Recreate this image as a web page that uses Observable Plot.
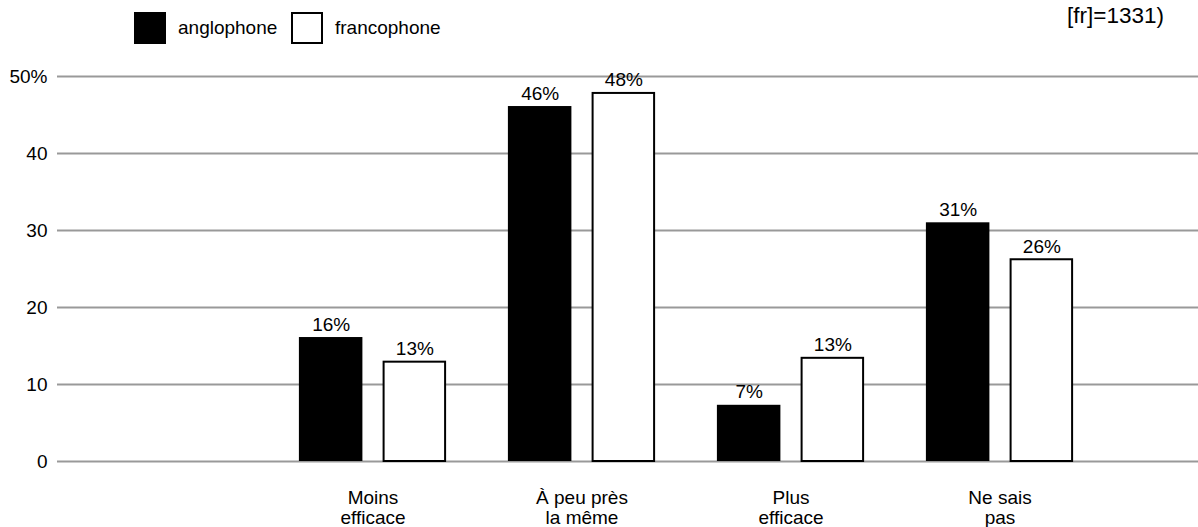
<!DOCTYPE html>
<html>
<head>
<meta charset="utf-8">
<script src="https://cdn.jsdelivr.net/npm/d3@7"></script>
<script src="https://cdn.jsdelivr.net/npm/@observablehq/plot@0.6"></script>
<style>
  html, body { margin: 0; padding: 0; background: #fff; }
  body { font-family: "Liberation Sans", Arial, Helvetica, sans-serif; color: #000; }
  #wrap { position: relative; width: 1198px; height: 527px; overflow: hidden; }
  #header { position: relative; width: 1198px; height: 56px; }
  .sw { position: absolute; top: 12px; width: 32px; height: 32px; box-sizing: border-box; }
  .lbl { position: absolute; top: 12px; height: 32px; line-height: 32px; font-size: 19px; }
  #note { position: absolute; right: 34px; top: 5px; font-size: 22.5px; line-height: 1; text-align: right; white-space: nowrap; }
</style>
</head>
<body>
<div id="wrap">
  <div id="header"></div>
  <div id="chart"></div>
</div>
<script>
// ---- data ----
const categories = [" ", "Moins\nefficace", "À peu près\nla même", "Plus\nefficace", "Ne sais\npas"];
const barCategories = ["Moins\nefficace", "À peu près\nla même", "Plus\nefficace", "Ne sais\npas"];
const anglophone = [16.1, 46.1, 7.3, 31.0];
const francophone = [12.9, 47.8, 13.4, 26.2];
const seriesNames = ["anglophone", "francophone"];
const yTicks = [0, 10, 20, 30, 40, 50];
const noteText = "[fr]=1331)";

// ---- header (legend + note) ----
const header = document.getElementById("header");
const legendItems = [
  {name: seriesNames[0], sw: 134, lbl: 178, style: "background:#000;"},
  {name: seriesNames[1], sw: 291, lbl: 335, style: "background:#fff;border:2px solid #000;"}
];
for (const it of legendItems) {
  const s = document.createElement("div");
  s.className = "sw"; s.style.cssText = `left:${it.sw}px;${it.style}`;
  header.appendChild(s);
  const t = document.createElement("div");
  t.className = "lbl"; t.style.left = it.lbl + "px"; t.textContent = it.name;
  header.appendChild(t);
}
const note = document.createElement("div");
note.id = "note"; note.textContent = noteText;
header.appendChild(note);

// ---- chart ----
const en = barCategories.map((c, i) => ({cat: c, v: anglophone[i], series: seriesNames[0]}));
const fr = barCategories.map((c, i) => ({cat: c, v: francophone[i], series: seriesNames[1]}));

const W = 1198, H = 471;
const font = "Liberation Sans, Arial, Helvetica, sans-serif";

const chart = Plot.plot({
  width: W,
  height: H,
  marginTop: 20,
  marginBottom: 66,
  marginLeft: 57,
  marginRight: 0,
  style: {fontFamily: font, fontSize: "19px", color: "#000", background: "#fff", overflow: "visible"},
  x: {domain: categories, range: [57.25, 1104.75], padding: 0, label: null},
  y: {domain: [0, 50], label: null},
  marks: [
    Plot.ruleY(yTicks, {stroke: "#999", strokeWidth: 2}),
    Plot.axisY({ticks: yTicks, tickSize: 0, tickPadding: 10, fontSize: 19,
      tickFormat: d => d === 50 ? "50%" : String(d), label: null}),
    Plot.axisX({tickSize: 0, tickPadding: 28, fontSize: 19, lineHeight: 1.05, label: null,
      tickFormat: d => d}),
    Plot.barY(en, {x: "cat", y: "v", fill: "#000", insetLeft: 30.9, insetRight: 114.6}),
    Plot.barY(fr, {x: "cat", y: "v", fill: "#fff", stroke: "#000", strokeWidth: 2, insetLeft: 115.6, insetRight: 31.9}),
    Plot.text(en, {x: "cat", y: "v", text: d => Math.round(d.v) + "%", dx: -41.85, dy: -7,
      lineAnchor: "bottom", fontSize: 19, fill: "#000"}),
    Plot.text(fr, {x: "cat", y: "v", text: d => Math.round(d.v) + "%", dx: 41.85, dy: -7,
      lineAnchor: "bottom", fontSize: 19, fill: "#000"})
  ]
});
document.getElementById("chart").appendChild(chart);
</script>
</body>
</html>
